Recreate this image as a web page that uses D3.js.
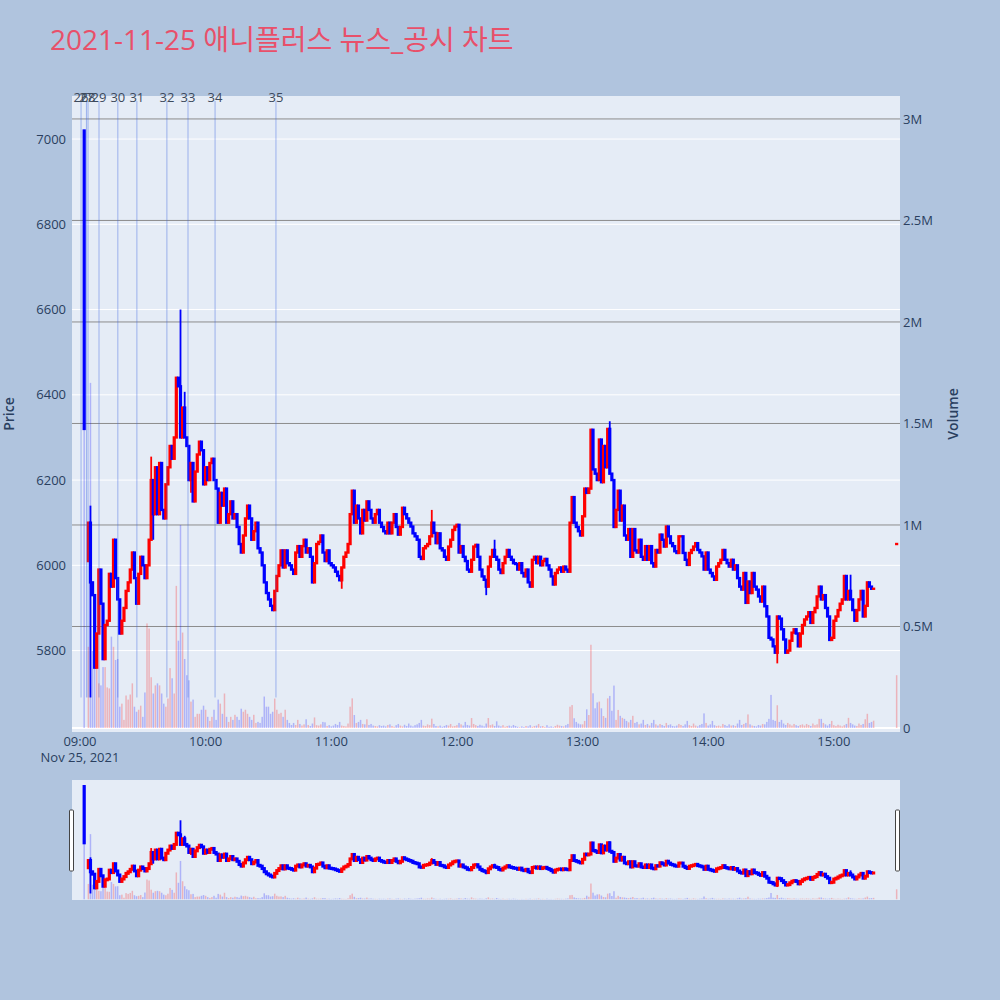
<!DOCTYPE html>
<html>
<head>
<meta charset="utf-8">
<script src="https://cdn.jsdelivr.net/npm/d3@7"></script>
<style>
  body { margin: 0; background: #b0c4de; }
  svg { display: block; font-family: "Open Sans", "Noto Sans CJK KR", sans-serif; }
</style>
</head>
<body>
<div id="chart" style="width:1000px;height:1000px"></div>
<script>
// one-minute closes (first candle 09:02, 09:03 has no trade)
const tradeDate = "2021-11-25";
const firstMinute = "09:02";
const close09 = [6320, null, 6100, 5960, 5930, 5760, 5840, 5990,
  5910, 5780, 5860, 5870, 5980, 5950, 6060, 5970, 5920, 5840,
  5870, 5900, 5940, 5960, 5990, 6030, 5970, 5910, 5980, 6020,
  6000, 5970, 6000, 6060, 6200, 6120, 6230, 6120, 6240, 6130,
  6110, 6190, 6230, 6280, 6250, 6300, 6440, 6420, 6300, 6370,
  6300, 6280, 6200, 6240, 6150, 6220, 6260, 6290, 6270, 6190];
const close10 = [6230, 6200, 6240, 6250, 6200, 6180, 6100, 6170, 6140, 6180,
  6100, 6120, 6150, 6110, 6120, 6090, 6050, 6030, 6070, 6110,
  6140, 6110, 6060, 6080, 6100, 6040, 6030, 6000, 5960, 5935,
  5920, 5905, 5895, 5940, 5975, 6000, 6035, 5995, 6035, 6005,
  6000, 5990, 5980, 6030, 6045, 6020, 6045, 6060, 6030, 6040,
  6020, 5960, 6005, 6050, 6055, 6070, 6030, 6010, 6035, 6005];
const close11 = [6000, 5995, 5985, 5975, 5965, 5995, 6020, 6030, 6050, 6120,
  6175, 6100, 6140, 6110, 6075, 6130, 6105, 6150, 6130, 6110,
  6100, 6120, 6130, 6100, 6090, 6080, 6075, 6100, 6075, 6100,
  6120, 6090, 6072, 6090, 6135, 6120, 6110, 6100, 6091, 6075,
  6068, 6060, 6020, 6015, 6040, 6045, 6050, 6068, 6100, 6076,
  6052, 6075, 6040, 6035, 6020, 6013, 6044, 6060, 6083, 6091];
const close12 = [6095, 6030, 6045, 6020, 6010, 5990, 5985, 6013, 6044, 6048,
  6020, 5990, 5974, 5966, 5950, 5997, 6020, 6036, 6020, 6013,
  5990, 5982, 6005, 6020, 6036, 6020, 6013, 6005, 6003, 5990,
  6005, 5982, 5974, 5990, 5960, 5950, 6013, 6020, 6005, 6020,
  6000, 6010, 6015, 6000, 5990, 5974, 5955, 5982, 5990, 5995,
  5985, 5997, 5990, 5985, 6100, 6160, 6100, 6090, 6080, 6070];
const close13 = [6115, 6180, 6170, 6180, 6318, 6225, 6215, 6200, 6295, 6195,
  6280, 6230, 6320, 6215, 6200, 6090, 6130, 6175, 6105, 6140,
  6070, 6060, 6085, 6020, 6085, 6035, 6030, 6060, 6020, 6013,
  6045, 6013, 6045, 6005, 5997, 6036, 6030, 6072, 6060, 6044,
  6091, 6068, 6052, 6045, 6033, 6029, 6068, 6068, 6029, 6013,
  6001, 6029, 6036, 6044, 6052, 6036, 6030, 6021, 5990, 6030];
const close14 = [5990, 5982, 5974, 5966, 5997, 6005, 6013, 6036, 6013, 6005,
  5997, 6013, 5990, 6000, 5970, 5950, 5943, 5982, 5912, 5962,
  5935, 5982, 5950, 5943, 5927, 5915, 5950, 5904, 5880, 5830,
  5826, 5810, 5795, 5880, 5875, 5850, 5826, 5795, 5800, 5823,
  5842, 5850, 5840, 5810, 5840, 5860, 5873, 5880, 5890, 5865,
  5890, 5900, 5927, 5950, 5920, 5930, 5900, 5880, 5825, 5830];
const close15 = [5870, 5880, 5895, 5910, 5920, 5975, 5920, 5940, 5920, 5895,
  5870, 5895, 5920, 5940, 5880, 5905, 5960, 5950, 5945, 5945];

// volume per minute, thousands of shares
const volume09 = [1500, null, 400, 1700, 380, 330, 300, 220,
  210, 300, 300, 200, 195, 450, 400, 335, 340, 105,
  120, 40, 160, 140, 165, 220, 105, 80, 90, 110,
  55, 175, 515, 490, 250, 170, 210, 220, 210, 170,
  120, 105, 145, 295, 245, 170, 700, 430, 1000, 470,
  340, 260, 235, 130, 140, 55, 70, 70, 90, 110];
const volume10 = [90, 55, 35, 55, 90, 40, 140, 120, 70, 170,
  55, 30, 55, 40, 65, 55, 40, 95, 80, 90,
  70, 55, 40, 65, 25, 30, 25, 55, 155, 105,
  105, 70, 80, 145, 90, 70, 75, 55, 90, 40,
  25, 15, 25, 15, 40, 20, 12, 18, 43, 15,
  10, 22, 52, 14, 12, 18, 30, 28, 10, 14];
const volume11 = [8, 12, 20, 15, 30, 12, 10, 8, 22, 105,
  146, 64, 25, 30, 40, 20, 18, 43, 15, 20,
  12, 10, 8, 14, 10, 12, 8, 15, 18, 10,
  6, 14, 20, 12, 8, 16, 10, 22, 12, 8,
  14, 18, 25, 40, 12, 10, 18, 14, 46, 20,
  10, 8, 12, 6, 10, 15, 12, 20, 8, 10];
const volume12 = [14, 25, 18, 12, 30, 15, 12, 49, 20, 14,
  10, 16, 12, 8, 22, 49, 14, 18, 10, 33,
  12, 8, 14, 6, 10, 12, 8, 15, 10, 6,
  4, 8, 5, 10, 8, 14, 6, 10, 12, 20,
  8, 10, 5, 14, 6, 8, 4, 10, 16, 12,
  10, 8, 14, 20, 105, 113, 48, 30, 22, 18];
const volume13 = [18, 35, 92, 64, 410, 171, 97, 126, 130, 97,
  59, 50, 146, 158, 85, 209, 40, 89, 60, 50,
  45, 35, 28, 40, 60, 25, 30, 18, 22, 40,
  15, 20, 12, 25, 40, 18, 12, 20, 15, 10,
  25, 14, 18, 10, 8, 12, 20, 15, 10, 18,
  35, 14, 10, 22, 12, 8, 15, 20, 72, 25];
const volume14 = [12, 18, 35, 14, 10, 12, 8, 20, 15, 10,
  18, 12, 14, 10, 22, 40, 15, 20, 25, 67,
  18, 12, 10, 8, 15, 12, 20, 18, 30, 45,
  163, 40, 35, 112, 30, 40, 22, 15, 25, 18,
  12, 20, 14, 10, 15, 18, 12, 20, 15, 10,
  22, 14, 18, 45, 45, 25, 18, 12, 20, 35];
const volume15 = [14, 10, 16, 12, 8, 14, 20, 50, 25, 18,
  12, 10, 22, 15, 20, 43, 70, 25, 30, 36];

// candles whose open or wick is not implied by the neighbouring closes
const openFix = {"09:02": 7020, "09:04": 6010};
const highFix = {"09:02": 7020, "09:05": 6140, "09:34": 6255, "09:48": 6600, "09:50": 6407,
  "11:48": 6130, "12:18": 6060, "13:13": 6338, "15:08": 5978};
const lowFix = {"09:05": 5690, "09:35": 6060, "09:53": 6170, "11:05": 5945,
  "12:14": 5930, "14:33": 5770};

// closing auction print
const auctionTime = "15:30";
const auctionPrice = 6050;
const auctionVolume = 260;

// news / disclosure markers
const newsTimes = ["09:00:30", "09:03:05", "09:03:50", "09:09:05", "09:18:05",
  "09:27:10", "09:41:30", "09:51:35", "10:04:30", "10:33:35"];
const newsLabels = ["26", "27", "28", "29", "30", "31", "32", "33", "34", "35"];

const priceTicks = [5800, 6000, 6200, 6400, 6600, 6800, 7000];
const volumeTicks = [0, 500000, 1000000, 1500000, 2000000, 2500000, 3000000];
const volumeTickLabels = ["0", "0.5M", "1M", "1.5M", "2M", "2.5M", "3M"];

const titleText = "2021-11-25 애니플러스 뉴스_공시 차트";

class NewsChart {

  constructor(opts) {
    this.element = opts.element;
    this.data = opts.data;
    this.news = opts.news;

    this.plotL = 72, this.plotR = 900, this.plotT = 96, this.plotB = 732;
    this.sliderT = 780, this.sliderB = 900;
    this.priceRange = [5609, 7101];
    this.volRange = [-19700, 3113000];

    this.draw();
  }

  draw() {
    this.element.innerHTML = '';
    this.svg = d3.select(this.element).append('svg')
      .attr('width', 1000)
      .attr('height', 1000);

    this.svg.append('text')
      .attr('x', 50).attr('y', 50)
      .attr('fill', '#e8506a')
      .style('font-size', '28px')
      .text(titleText);

    this.createScales();
    this.createGrid();
    this.createMain();
    this.createSlider();
  }

  createScales() {
    const day = d3.timeParse("%Y-%m-%d %H:%M")(tradeDate + " 09:00");
    this.x = d3.scaleTime()
      .domain([d3.timeSecond.offset(day, -229), d3.timeSecond.offset(day, 23496)])
      .range([this.plotL, this.plotR]);
    this.yPrice = d3.scaleLinear().domain(this.priceRange).range([this.plotB, this.plotT]);
    this.yVol = d3.scaleLinear().domain(this.volRange).range([this.plotB, this.plotT]);
    this.sPrice = d3.scaleLinear().domain(this.priceRange).range([this.sliderB, this.sliderT]);
    this.sVol = d3.scaleLinear().domain(this.volRange).range([this.sliderB, this.sliderT]);
  }

  createGrid() {
    const svg = this.svg;
    svg.append('rect')
      .attr('x', this.plotL).attr('y', this.plotT)
      .attr('width', this.plotR - this.plotL).attr('height', this.plotB - this.plotT)
      .attr('fill', '#e5ecf6');

    // price grid + labels (left)
    svg.append('g').selectAll('line').data(priceTicks).enter()
      .append('line')
      .attr('x1', this.plotL).attr('x2', this.plotR)
      .attr('y1', d => this.yPrice(d)).attr('y2', d => this.yPrice(d))
      .attr('stroke', '#fff').attr('stroke-width', 1);

    const yAxis = d3.axisLeft(this.yPrice).tickValues(priceTicks)
      .tickFormat(d3.format('d')).tickSize(0).tickPadding(6);
    svg.append('g')
      .attr('transform', `translate(${this.plotL},0)`)
      .call(yAxis)
      .call(g => g.select('.domain').remove())
      .selectAll('text').attr('fill', '#2a3f5f').style('font-size', '13px')
      .style('font-family', '"Open Sans", sans-serif');

    // volume grid + labels (right)
    svg.append('g').selectAll('line').data(volumeTicks.slice(1)).enter()
      .append('line')
      .attr('x1', this.plotL).attr('x2', this.plotR)
      .attr('y1', d => this.yVol(d)).attr('y2', d => this.yVol(d))
      .attr('stroke', '#8c8c8c').attr('stroke-width', 1);
    svg.append('line')
      .attr('x1', this.plotL).attr('x2', this.plotR)
      .attr('y1', this.yVol(0)).attr('y2', this.yVol(0))
      .attr('stroke', '#fff').attr('stroke-width', 2);

    const y2Axis = d3.axisRight(this.yVol).tickValues(volumeTicks)
      .tickFormat((d, i) => volumeTickLabels[i]).tickSize(0).tickPadding(3);
    svg.append('g')
      .attr('transform', `translate(${this.plotR},0)`)
      .call(y2Axis)
      .call(g => g.select('.domain').remove())
      .selectAll('text').attr('fill', '#2a3f5f').style('font-size', '13px')
      .style('font-family', '"Open Sans", sans-serif');

    // time axis
    const fmt = d3.timeFormat("%H:%M");
    const hours = d3.timeHour.range(this.x.domain()[0], this.x.domain()[1]);
    const xg = svg.append('g').attr('class', 'x_ticks');
    xg.selectAll('text').data(hours).enter()
      .append('text')
      .attr('x', d => this.x(d)).attr('y', 746)
      .attr('text-anchor', 'middle')
      .attr('fill', '#2a3f5f').style('font-size', '13px')
      .text(d => fmt(d));
    xg.append('text')
      .attr('x', this.x(hours[0])).attr('y', 762)
      .attr('text-anchor', 'middle')
      .attr('fill', '#2a3f5f').style('font-size', '13px')
      .text(d3.timeFormat("%b %-d, %Y")(hours[0]));

    svg.append('text')
      .attr('transform', `translate(14,${(this.plotT + this.plotB) / 2}) rotate(-90)`)
      .attr('text-anchor', 'middle')
      .attr('fill', '#2a3f5f').style('font-size', '14px').style('font-weight', 600)
      .text('Price');
    svg.append('text')
      .attr('transform', `translate(958,${(this.plotT + this.plotB) / 2}) rotate(-90)`)
      .attr('text-anchor', 'middle')
      .attr('fill', '#2a3f5f').style('font-size', '14px').style('font-weight', 600)
      .text('Volume');
  }

  drawSeries(g, yP, yV, bodyW, barW, wickW, minH) {
    const that = this;
    const up = '#ff0000', down = '#0000ff';

    g.append('g').selectAll('rect').data(this.data).enter()
      .append('rect')
      .attr('x', d => that.x(d.time) - barW / 2)
      .attr('width', barW)
      .attr('y', d => yV(d.volume))
      .attr('height', d => Math.max(0, yV(0) - yV(d.volume)))
      .attr('fill', d => d.close >= d.open ? up : down)
      .attr('fill-opacity', 0.24);

    const c = g.append('g').selectAll('g').data(this.data).enter().append('g');
    c.append('line')
      .attr('x1', d => that.x(d.time)).attr('x2', d => that.x(d.time))
      .attr('y1', d => yP(d.high)).attr('y2', d => yP(d.low))
      .attr('stroke', d => d.close >= d.open ? up : down)
      .attr('stroke-width', wickW);
    c.append('rect')
      .attr('x', d => that.x(d.time) - bodyW / 2)
      .attr('width', bodyW)
      .attr('y', d => Math.min(yP(d.open), yP(d.close)) - minH / 2)
      .attr('height', d => Math.abs(yP(d.open) - yP(d.close)) + minH)
      .attr('fill', d => d.close >= d.open ? up : down);
  }

  createMain() {
    const clip = this.svg.append('clipPath').attr('id', 'main_clip');
    clip.append('rect')
      .attr('x', this.plotL).attr('y', this.plotT)
      .attr('width', this.plotR - this.plotL).attr('height', this.plotB - this.plotT);

    const g = this.svg.append('g').attr('clip-path', 'url(#main_clip)');
    this.drawSeries(g, this.yPrice, this.yVol, 3.2, 1.5, 1.8, 2.4);

    // news markers
    const news = this.svg.append('g').attr('id', 'news');
    news.selectAll('line').data(this.news).enter()
      .append('line')
      .attr('x1', d => this.x(d.time)).attr('x2', d => this.x(d.time))
      .attr('y1', 101).attr('y2', this.yPrice(5690))
      .attr('stroke', 'royalblue').attr('stroke-opacity', 0.45)
      .attr('stroke-width', 1);
    news.selectAll('text').data(this.news).enter()
      .append('text')
      .attr('x', d => this.x(d.time)).attr('y', 102)
      .attr('text-anchor', 'middle')
      .attr('fill', '#3d4a5c').style('font-size', '13px')
      .text(d => d.label);
  }

  createSlider() {
    const svg = this.svg;
    svg.append('rect')
      .attr('x', this.plotL).attr('y', this.sliderT)
      .attr('width', this.plotR - this.plotL).attr('height', this.sliderB - this.sliderT)
      .attr('fill', '#e5ecf6');

    const clip = svg.append('clipPath').attr('id', 'slider_clip');
    clip.append('rect')
      .attr('x', this.plotL).attr('y', this.sliderT)
      .attr('width', this.plotR - this.plotL).attr('height', this.sliderB - this.sliderT);
    const g = svg.append('g').attr('clip-path', 'url(#slider_clip)');
    this.drawSeries(g, this.sPrice, this.sVol, 3.2, 1.5, 1.8, 3);

    // grabbers
    [this.plotL - 2.5, this.plotR - 4.5].forEach(x => {
      svg.append('rect')
        .attr('x', x).attr('y', 810)
        .attr('width', 4).attr('height', 61)
        .attr('rx', 1)
        .attr('fill', '#fff').attr('stroke', '#444').attr('stroke-width', 1);
    });
  }
}

// assemble candles
const parseMin = d3.timeParse("%Y-%m-%d %H:%M");
const parseSec = d3.timeParse("%Y-%m-%d %H:%M:%S");
const hm = d3.timeFormat("%H:%M");
const closes = [].concat(close09, close10, close11, close12, close13, close14, close15);
const volumes = [].concat(volume09, volume10, volume11, volume12, volume13, volume14, volume15);
const t0 = parseMin(tradeDate + " " + firstMinute);

const candles = [];
let prevClose = null;
closes.forEach(function(c, i) {
  if (c == null) return;
  const t = d3.timeMinute.offset(t0, i);
  const key = hm(t);
  const o = openFix[key] != null ? openFix[key] : prevClose;
  candles.push({
    time: t,
    open: o,
    close: c,
    high: Math.max(o, c, highFix[key] || -Infinity),
    low: Math.min(o, c, lowFix[key] || Infinity),
    volume: volumes[i] * 1000
  });
  prevClose = c;
});
candles.push({
  time: parseMin(tradeDate + " " + auctionTime),
  open: auctionPrice, close: auctionPrice, high: auctionPrice, low: auctionPrice,
  volume: auctionVolume * 1000
});

const newsData = newsTimes.map((t, i) => ({time: parseSec(tradeDate + " " + t), label: newsLabels[i]}));

new NewsChart({element: document.getElementById('chart'), data: candles, news: newsData});
</script>
</body>
</html>
